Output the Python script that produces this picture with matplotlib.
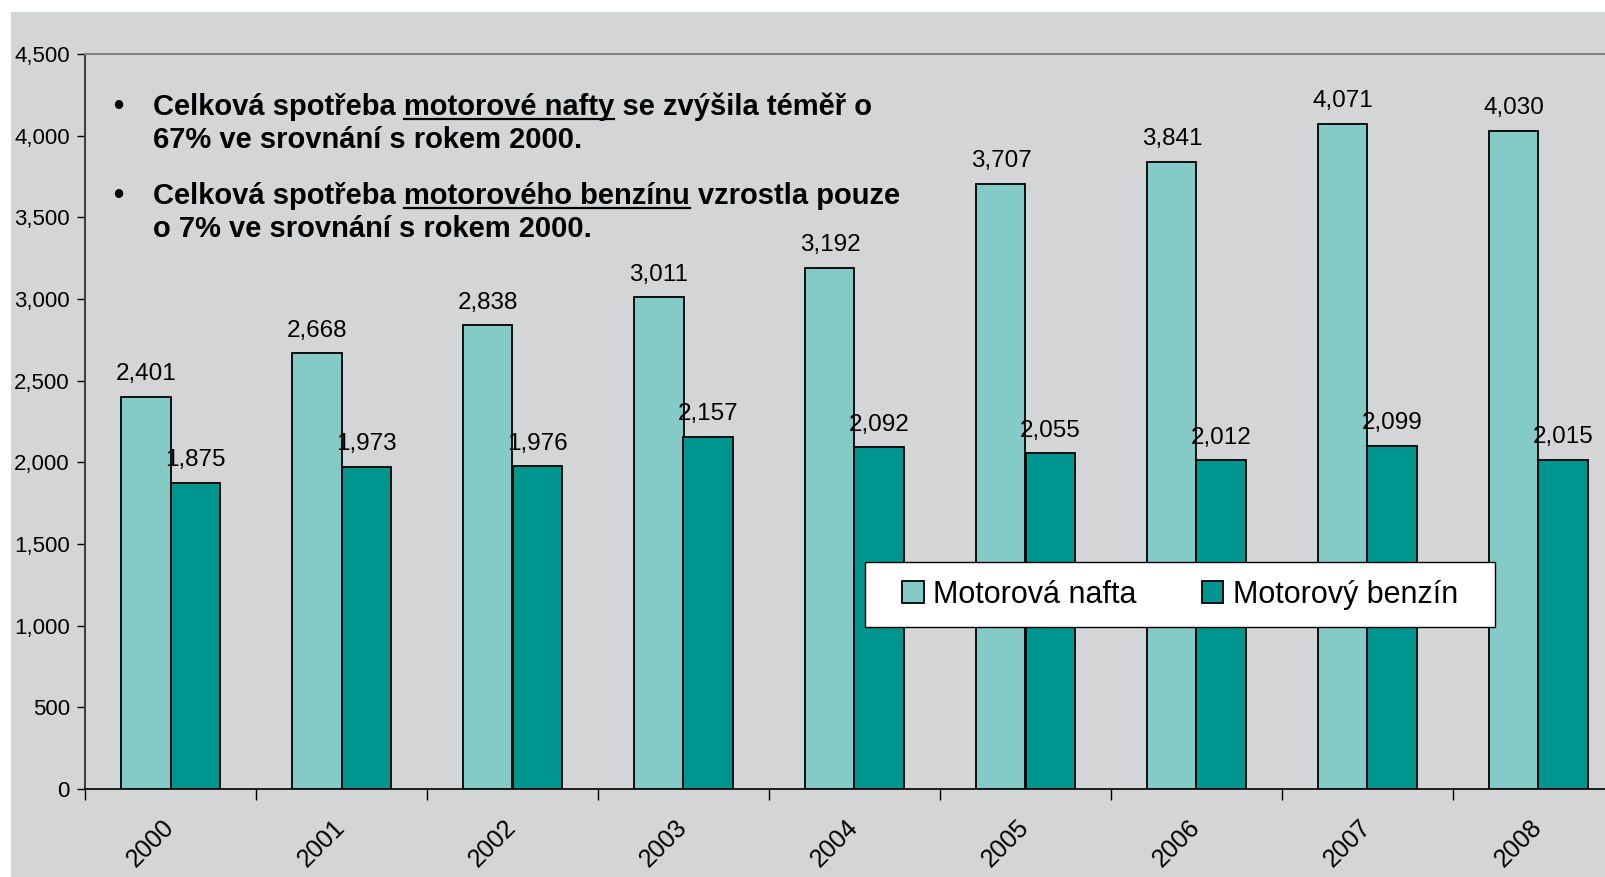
"""
Spotřeba motorové nafty a benzínu 2000-2008, skupinový sloupcový graf.
"""
import numpy as np
import matplotlib.pyplot as plt
from matplotlib.patches import Rectangle
from matplotlib.lines import Line2D
from matplotlib.ticker import FuncFormatter

years = ['2000', '2001', '2002', '2003', '2004', '2005', '2006', '2007', '2008']
nafta = [2401, 2668, 2838, 3011, 3192, 3707, 3841, 4071, 4030]
benzin = [1875, 1973, 1976, 2157, 2092, 2055, 2012, 2099, 2015]
series_names = ['Motorová nafta', 'Motorový benzín']

bullets = [
    ('Celková spotřeba ', 'motorové nafty', ' se zvýšila téměř o', '67% ve srovnání s rokem 2000.'),
    ('Celková spotřeba ', 'motorového benzínu', ' vzrostla pouze', 'o 7% ve srovnání s rokem 2000.'),
]

W, H = 1606, 877
BG = '#D4D5D7'
LIGHT = '#84CAC6'
DARK = '#009690'
SANS = ['Liberation Sans', 'DejaVu Sans']

fig = plt.figure(figsize=(W / 100, H / 100), dpi=100, facecolor='white')
fig.add_artist(Rectangle((11 / W, 0), 1, 1 - 12 / H, transform=fig.transFigure,
                         facecolor=BG, edgecolor='none', zorder=-10))

ax = fig.add_axes([85 / W, 88 / H, 1539 / W, 735 / H])
ax.set_facecolor(BG)

index = np.arange(len(years))
bar_width = 0.287
off = 0.1435

rects1 = ax.bar(index - off, nafta, bar_width, color=LIGHT, edgecolor='black',
                linewidth=1.3, label=series_names[0], zorder=3)
rects2 = ax.bar(index + off, benzin, bar_width, color=DARK, edgecolor='black',
                linewidth=1.3, label=series_names[1], zorder=3)

for rects, vals in ((rects1, nafta), (rects2, benzin)):
    for r, v in zip(rects, vals):
        ax.annotate(f'{v:,}', (r.get_x() + r.get_width() / 2, r.get_height()),
                    xytext=(0, 12), textcoords='offset points',
                    ha='center', va='baseline', fontsize=17.5, family=SANS, zorder=5)

ax.set_xlim(-0.5, len(years) - 0.5)
ax.set_ylim(0, 4500)
ax.set_yticks(np.arange(0, 4501, 500))
ax.yaxis.set_major_formatter(FuncFormatter(lambda v, p: f'{int(v):,}'))
ax.tick_params(axis='y', direction='out', length=6, width=1, pad=5, labelsize=16)
for lab in ax.get_yticklabels():
    lab.set_family(SANS)

# category boundaries get the tick marks, centres get the labels
ax.set_xticks(np.arange(-0.5, len(years), 1.0))
ax.set_xticklabels([])
ax.set_xticks(index, minor=True)
ax.set_xticklabels(years, minor=True, rotation=45, ha='right', va='center',
                   rotation_mode='anchor', fontsize=18, family=SANS)
ax.tick_params(axis='x', which='major', direction='out', length=8, width=1)
ax.tick_params(axis='x', which='minor', length=0, pad=25)

ax.spines['right'].set_visible(False)
ax.spines['top'].set_color('#808080')
ax.spines['top'].set_linewidth(1.5)
ax.spines['left'].set_color('#404040')
ax.spines['left'].set_linewidth(1.5)
ax.spines['bottom'].set_color('black')
ax.spines['bottom'].set_linewidth(1.2)

# legend: white box drawn separately, entries centred in it
box = (0.507, 0.22, 0.409, 0.089)
ax.add_patch(Rectangle(box[:2], box[2], box[3], transform=ax.transAxes,
                       facecolor='white', edgecolor='black', linewidth=1.0, zorder=9))
leg = ax.legend(loc='center', bbox_to_anchor=(box[0] + box[2] / 2, box[1] + box[3] / 2),
                ncol=2, frameon=False, prop={'family': SANS, 'size': 22},
                handlelength=0.7, handleheight=0.7, handletextpad=0.3,
                columnspacing=2.15, borderpad=0, borderaxespad=0)
leg.set_zorder(10)

# bullet text with underlined words
renderer = fig.canvas.get_renderer()
tprops = dict(fontsize=21, fontweight='bold', family=SANS, va='baseline', ha='left')


def px_width(s):
    t = fig.text(0, 0, s, **tprops)
    w = t.get_window_extent(renderer).width
    t.remove()
    return w


x_bullet, x_text = 113, 153
baselines = [(115, 148), (204, 237)]
for (pre, under, post, second), (y1, y2) in zip(bullets, baselines):
    fig.text(x_bullet / W, 1 - y1 / H, '•', **tprops)
    fig.text(x_text / W, 1 - y1 / H, pre + under + post, **tprops)
    fig.text(x_text / W, 1 - y2 / H, second, **tprops)
    end = px_width(pre + under)
    start = end - px_width(under)
    uy = 1 - (y1 + 4) / H
    fig.add_artist(Line2D([(x_text + start) / W, (x_text + end) / W], [uy, uy],
                          transform=fig.transFigure, color='black', linewidth=1.6))

plt.savefig('out.png', dpi=100, facecolor='white')
